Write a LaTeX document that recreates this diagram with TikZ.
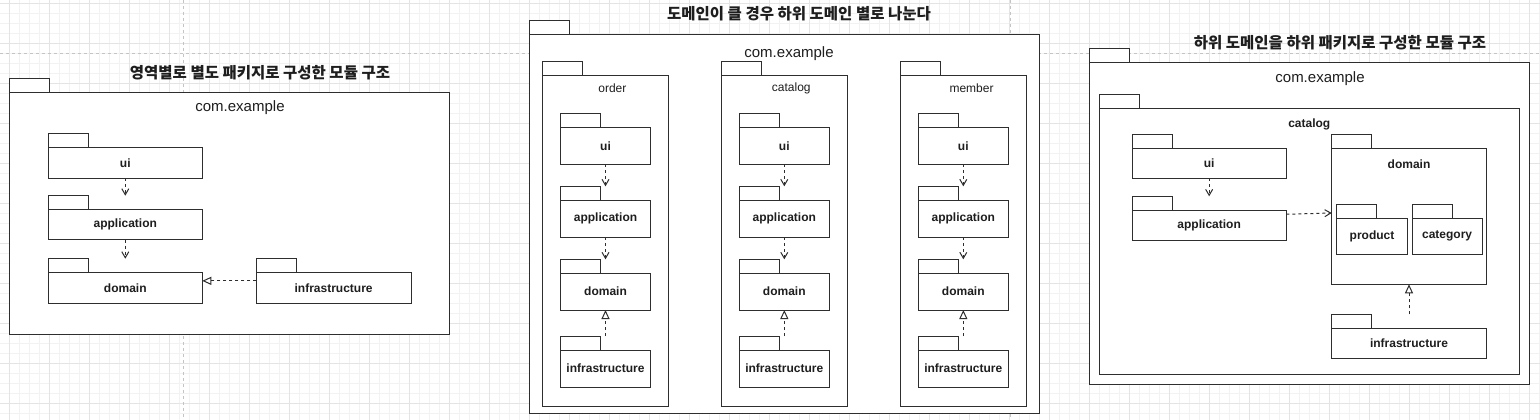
\documentclass[tikz,border=0pt]{standalone}
\usepackage{fontspec}
\setmainfont{Liberation Sans}
\newfontfamily\kr{Noto Sans CJK KR}
\usetikzlibrary{arrows.meta,fit}
\definecolor{ink}{HTML}{1E1E1E}
\definecolor{edge}{HTML}{2E2E2E}
\definecolor{gminorc}{HTML}{F2F2F2}
\definecolor{gmajorc}{HTML}{E4E4E4}
\definecolor{pagec}{HTML}{C4C4C4}
\tikzset{
  gminor/.style={draw=gminorc, line width=0.8pt},
  gmajor/.style={draw=gmajorc, line width=0.9pt},
  pagebreak/.style={draw=pagec, line width=0.8pt, dash pattern=on 3pt off 3pt},
  pkgline/.style={draw=edge, fill=white, line width=1pt},
  pkgbody/.style={draw=edge, fill=white, line width=1pt, inner sep=0pt},
  pkgwhole/.style={inner sep=0pt, outer sep=0pt},
  lblb/.style={text=ink, font=\fontsize{12}{14}\selectfont\bfseries, inner sep=1pt},
  lblr/.style={text=ink, font=\fontsize{12}{14}\selectfont, inner sep=1pt},
  lblbig/.style={text=ink, font=\fontsize{15}{18}\selectfont, inner sep=1pt},
  ttl/.style={text=ink, font=\kr\fontsize{15.5}{18}\selectfont\bfseries, inner sep=1pt},
  dep/.style={draw=edge, line width=1pt, dash pattern=on 3pt off 3pt, -{Straight Barb[length=6pt,width=7pt,line width=1pt]}},
  real/.style={draw=edge, line width=1pt, dash pattern=on 3pt off 3pt, -{Triangle[open,length=9pt,width=8pt,line width=1pt]}},
}
% #1 name, #2 x1, #3 body top, #4 x2, #5 y2
\newcommand\pkgshape[5]{%
  \draw[pkgline] (#2,#3-14) rectangle (#2+40,#3);
  \node[pkgbody, fit={(#2,#3) (#4,#5)}] (#1-b) {};
  \node[pkgwhole, fit={(#2,#3-14) (#4,#5)}] (#1) {};
}
\begin{document}
\begin{tikzpicture}[x=1pt,y=-1pt]
\useasboundingbox (0,0) rectangle (1540,420);
\fill[white] (0,0) rectangle (1540,420);
% grid
\foreach \i in {0,...,154} { \draw[gminor] (\i*10-0.7,0) -- (\i*10-0.7,420); }
\foreach \j in {0,...,42} { \draw[gminor] (0,\j*10+3.3) -- (1540,\j*10+3.3); }
\foreach \i in {0,...,38} { \draw[gmajor] (\i*40+9.3,0) -- (\i*40+9.3,420); }
\foreach \j in {0,...,10} { \draw[gmajor] (0,\j*40+3.3) -- (1540,\j*40+3.3); }
% page breaks
\draw[pagebreak] (0,53) -- (1540,53);
\draw[pagebreak] (183.3,0) -- (183.3,420);
\draw[pagebreak] (1010,0) -- (1010,420);

% ===== left diagram =====
\node[ttl] (t1) at (260,72.7) {영역별로 별도 패키지로 구성한 모듈 구조};
\pkgshape{A}{9.3}{92.7}{449.3}{334}
\node[lblbig] (A-l) at (240,108) {com.example};
\pkgshape{A-ui}{48.3}{147.7}{202.3}{178}
\node[lblb] at (A-ui-b) {ui};
\pkgshape{A-app}{48.3}{209.7}{202.3}{239.7}
\node[lblb] at (A-app-b) {application};
\pkgshape{A-dom}{48.3}{272.7}{202.3}{303}
\node[lblb] at (A-dom-b) {domain};
\pkgshape{A-inf}{256.3}{272.7}{411}{303}
\node[lblb] at (A-inf-b) {infrastructure};
\draw[dep] (A-ui) -- (A-app);
\draw[dep] (A-app) -- (A-dom);
\draw[real] (A-inf) -- (A-dom);

% ===== middle diagram =====
\node[ttl] (t2) at (799,14) {도메인이 클 경우 하위 도메인 별로 나눈다};
\pkgshape{B}{529.3}{34.3}{1039.3}{413.3}
\node[lblbig] (B-l) at (789,53.3) {com.example};
\foreach \n/\xa/\xb/\xc/\xd/\lx/\t in {o/542.7/668.3/560.7/650.3/612.4/order, c/721.7/847/739.3/829.3/791.3/catalog, m/900.3/1026/918.3/1008.3/971.5/member}{
  \pkgshape{B-\n}{\xa}{76}{\xb}{406}
  \node[lblr] (B-\n-l) at (\lx,88.3) {\t};
  \pkgshape{B-\n-ui}{\xc}{127.3}{\xd}{164.3}
  \node[lblb] at (B-\n-ui-b) {ui};
  \pkgshape{B-\n-app}{\xc}{200.3}{\xd}{237}
  \node[lblb] at (B-\n-app-b) {application};
  \pkgshape{B-\n-dom}{\xc}{273.3}{\xd}{310}
  \node[lblb] at (B-\n-dom-b) {domain};
  \pkgshape{B-\n-inf}{\xc}{350}{\xd}{387}
  \node[lblb] at (B-\n-inf-b) {infrastructure};
  \draw[dep] (B-\n-ui) -- (B-\n-app);
  \draw[dep] (B-\n-app) -- (B-\n-dom);
  \draw[real] (B-\n-inf) -- (B-\n-dom);
}

% ===== right diagram =====
\node[ttl] (t3) at (1340,42.7) {하위 도메인을 하위 패키지로 구성한 모듈 구조};
\pkgshape{C}{1089.3}{62.7}{1529.3}{384}
\node[lblbig] (C-l) at (1320,78.7) {com.example};
\pkgshape{C-cat}{1099.3}{108.3}{1519.3}{374}
\node[lblb] (C-cat-l) at (1309.3,124) {catalog};
\pkgshape{C-ui}{1132}{148.7}{1286.3}{178.3}
\node[lblb] at (C-ui-b) {ui};
\pkgshape{C-app}{1132}{210.3}{1286.3}{240}
\node[lblb] at (C-app-b) {application};
\pkgshape{C-dom}{1331.7}{148.7}{1486.3}{284.3}
\node[lblb] (C-dom-l) at (1409,164) {domain};
\pkgshape{C-prod}{1336.7}{218.3}{1407.3}{254.3}
\node[lblb] at (C-prod-b) {product};
\pkgshape{C-catg}{1412}{218.3}{1482.3}{254.3}
\node[lblb] at (C-catg-b) {category};
\pkgshape{C-inf}{1331.7}{328.3}{1486.3}{358}
\node[lblb] at (C-inf-b) {infrastructure};
\draw[dep] (C-ui) -- (C-app);
\draw[dep] ([yshift=3.9pt]C-app.east) -- ([yshift=-3.5pt]C-dom.west);
\draw[real] (C-inf) -- (C-dom);
\end{tikzpicture}
\end{document}
